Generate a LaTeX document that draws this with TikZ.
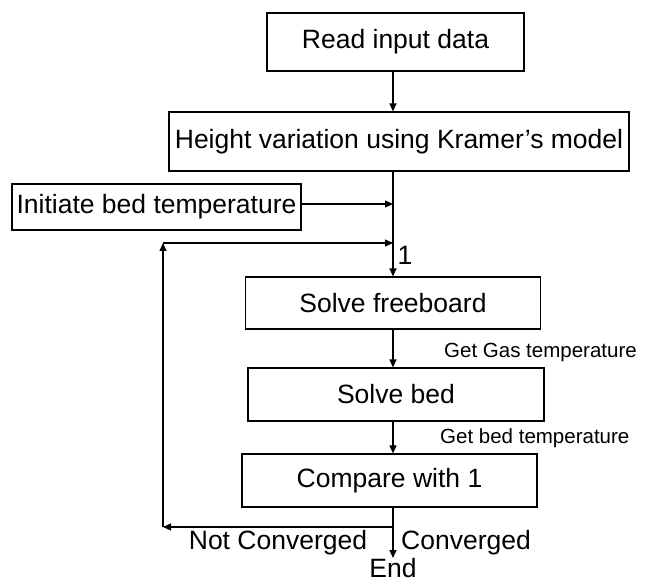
\documentclass[tikz,border=0pt]{standalone}
\usepackage{fontspec}
\setmainfont{Liberation Sans}
\usetikzlibrary{arrows.meta}
\begin{document}
\begin{tikzpicture}[x=1pt,y=-1pt,
  stepbox/.style={draw,line width=1.2pt,inner sep=0pt,font=\fontsize{26.5}{30}\selectfont},
  txt/.style={inner sep=0pt,font=\fontsize{26.5}{30}\selectfont},
  small/.style={inner sep=0pt,font=\fontsize{20.5}{23}\selectfont},
  flow/.style={line width=1.2pt,-{Triangle[length=8pt,width=7pt]}},
  plain/.style={line width=1.2pt}]
\useasboundingbox (0,0) rectangle (649,583);

% process boxes
\node[stepbox,minimum width=257pt,minimum height=58pt] (read) at (395.5,42) {Read input data};
\node[stepbox,minimum width=460pt,minimum height=59pt] (height) at (399,141.5) {Height variation using Kramer’s model};
\node[stepbox,minimum width=289pt,minimum height=46pt] (init) at (156.5,207) {Initiate bed temperature};
\node[stepbox,minimum width=295pt,minimum height=52pt] (free) at (393,303) {Solve freeboard};
\node[stepbox,minimum width=296pt,minimum height=53pt] (bed) at (396,394.5) {Solve bed};
\node[stepbox,minimum width=295pt,minimum height=53pt] (comp) at (389.5,480.5) {Compare with 1};

% junction points on the main line
\coordinate (jinit) at (393,204);
\coordinate (jloop) at (393,243);
\coordinate (split) at (393,527);
\coordinate (lc) at (163,527);
\coordinate (lt) at (163,243);
\coordinate (endp) at (393,558);

% main flow
\draw[flow] (read.south -| 393,0) -- (height.north -| 393,0);
\draw[flow] (height.south -| 393,0) -- (free.north -| 393,0);
\draw[flow] (init.east |- jinit) -- (jinit);
\draw[flow] (free.south -| 393,0) -- (bed.north -| 393,0);
\draw[flow] (bed.south -| 393,0) -- (comp.north -| 393,0);
\draw[plain] (comp.south -| 393,0) -- (split);
\draw[flow] (split) -- (endp);

% iteration loop
\draw[flow] (split) -- (lc);
\draw[flow] (lc) -- (lt);
\draw[flow] (lt) -- (jloop);

% labels
\node[txt] (one) at (405,255) {1};
\node[small,anchor=west] (gas) at (444,352) {Get Gas temperature};
\node[small,anchor=west] (bedt) at (440,438) {Get bed temperature};
\node[txt] (nc) at (278,543) {Not Converged};
\node[txt,anchor=west] (conv) at (401,543) {Converged};
\node[txt] (endl) at (393,568) {End};
\end{tikzpicture}
\end{document}
